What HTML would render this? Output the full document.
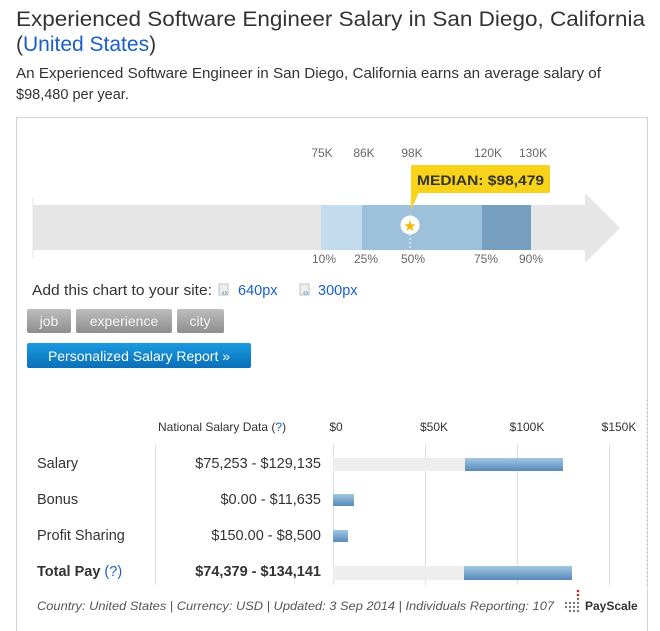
<!DOCTYPE html>
<html><head><meta charset="utf-8"><style>
html,body{margin:0;padding:0;background:#fff;}
svg{display:block;font-family:"Liberation Sans",sans-serif;}
</style></head><body>
<svg width="660" height="631" viewBox="0 0 660 631" xmlns="http://www.w3.org/2000/svg">
<text x="16" y="26" font-size="21" fill="#333" textLength="629" lengthAdjust="spacingAndGlyphs">Experienced Software Engineer Salary in San Diego, California</text>
<text x="16" y="51" font-size="21" fill="#333">(<tspan fill="#1a5fc9">United States</tspan>)</text>
<text x="16" y="78" font-size="14.5" fill="#333" textLength="585" lengthAdjust="spacingAndGlyphs">An Experienced Software Engineer in San Diego, California earns an average salary of</text>
<text x="16" y="99" font-size="14.5" fill="#333">$98,480 per year.</text>
<rect x="16.5" y="117.5" width="631" height="520" fill="none" stroke="#d4d4d4"/>
<rect x="33" y="205" width="553" height="45" fill="#e6e6e6"/>
<polygon points="585,193 620,228 585,263" fill="#e6e6e6"/>
<line x1="33" y1="197" x2="33" y2="258" stroke="#e6e6e6"/>
<rect x="321" y="205" width="41" height="45" fill="#c2dced"/>
<rect x="362" y="205" width="120" height="45" fill="#9dc1da"/>
<rect x="482" y="205" width="49" height="45" fill="#769fbf"/>
<line x1="410" y1="234" x2="410" y2="250" stroke="#fff" stroke-dasharray="2,2"/>
<circle cx="410" cy="225" r="9.5" fill="#fff"/>
<text x="410" y="231" font-size="15" fill="#f2b705" text-anchor="middle">★</text>
<polygon points="411,190 420,190 411,210" fill="#f9d21a"/>
<rect x="411" y="165" width="139" height="28" rx="2" fill="#f9d21a"/>
<text x="417" y="185" font-size="14" font-weight="bold" fill="#333" textLength="127" lengthAdjust="spacingAndGlyphs">MEDIAN: $98,479</text>
<g font-size="12" fill="#666" text-anchor="middle">
<text x="322" y="157">75K</text><text x="364" y="157">86K</text><text x="412" y="157">98K</text><text x="488" y="157">120K</text><text x="533" y="157">130K</text>
<text x="324" y="263">10%</text><text x="366" y="263">25%</text><text x="413" y="263">50%</text><text x="486" y="263">75%</text><text x="531" y="263">90%</text>
</g>
<text x="32" y="295" font-size="14.5" fill="#333" textLength="180" lengthAdjust="spacingAndGlyphs">Add this chart to your site:</text>
<rect x="219" y="284" width="9" height="11" fill="#eee" stroke="#aaa" stroke-width="0.7"/>
<text x="222" y="295" font-size="8" fill="#1a7fd0">‹›</text>
<text x="238" y="295" font-size="14.5" fill="#1a5fc9">640px</text>
<rect x="300" y="284" width="9" height="11" fill="#eee" stroke="#aaa" stroke-width="0.7"/>
<text x="303" y="295" font-size="8" fill="#1a7fd0">‹›</text>
<text x="318" y="295" font-size="14.5" fill="#1a5fc9">300px</text>
<defs>
<linearGradient id="tg" x1="0" y1="0" x2="0" y2="1"><stop offset="0" stop-color="#bdbdbd"/><stop offset="1" stop-color="#8e8e8e"/></linearGradient>
<linearGradient id="bg" x1="0" y1="0" x2="0" y2="1"><stop offset="0" stop-color="#1a9be0"/><stop offset="1" stop-color="#0a6fb8"/></linearGradient>
<linearGradient id="bar" x1="0" y1="0" x2="0" y2="1"><stop offset="0" stop-color="#9fc8e2"/><stop offset="1" stop-color="#5a89bb"/></linearGradient>
</defs>
<rect x="27" y="309" width="44" height="24" rx="2" fill="url(#tg)"/>
<rect x="76" y="309" width="96" height="24" rx="2" fill="url(#tg)"/>
<rect x="177" y="309" width="47" height="24" rx="2" fill="url(#tg)"/>
<g font-size="14" fill="#f4f4f4" text-anchor="middle"><text x="49" y="326">job</text><text x="124" y="326">experience</text><text x="200" y="326">city</text></g>
<rect x="27" y="343" width="224" height="25" rx="2" fill="url(#bg)"/>
<text x="139" y="361" font-size="14" fill="#fff" text-anchor="middle">Personalized Salary Report »</text>
<text x="158" y="431" font-size="12" fill="#333">National Salary Data (<tspan fill="#1a5fc9">?</tspan>)</text>
<g font-size="12" fill="#333" text-anchor="middle"><text x="336" y="431">$0</text><text x="434" y="431">$50K</text><text x="527" y="431">$100K</text><text x="619" y="431">$150K</text></g>
<g stroke="#ddd"><line x1="155.5" y1="445" x2="155.5" y2="585"/><line x1="333.5" y1="445" x2="333.5" y2="585"/><line x1="425.5" y1="445" x2="425.5" y2="585"/><line x1="517.5" y1="445" x2="517.5" y2="585"/><line x1="609.5" y1="445" x2="609.5" y2="585"/></g>
<line x1="646.5" y1="400" x2="646.5" y2="585" stroke="#ccc" stroke-dasharray="1,3"/>
<g font-size="14.5" fill="#333">
<text x="37" y="468">Salary</text><text x="37" y="504">Bonus</text><text x="37" y="540">Profit Sharing</text>
<text x="37" y="576" font-weight="bold">Total Pay <tspan font-weight="normal" fill="#1a5fc9">(?)</tspan></text>
</g>
<g font-size="14.5" fill="#333" text-anchor="end">
<text x="321" y="468">$75,253 - $129,135</text><text x="321" y="504">$0.00 - $11,635</text><text x="321" y="540">$150.00 - $8,500</text>
<text x="321" y="576" font-weight="bold">$74,379 - $134,141</text>
</g>
<rect x="333" y="458" width="132" height="13" fill="#eee"/><rect x="465" y="458" width="98" height="13" fill="url(#bar)"/>
<rect x="333" y="494" width="21" height="12" fill="url(#bar)"/>
<rect x="333" y="530" width="15" height="12" fill="url(#bar)"/>
<rect x="333" y="566" width="131" height="14" fill="#eee"/><rect x="464" y="566" width="108" height="14" fill="url(#bar)"/>
<text x="37" y="610" font-size="12" font-style="italic" fill="#555" textLength="517" lengthAdjust="spacingAndGlyphs">Country: United States | Currency: USD | Updated: 3 Sep 2014 | Individuals Reporting: 107</text>
<g fill="#777"><circle cx="566" cy="603" r="1.2"/><circle cx="570" cy="603" r="1.2"/><circle cx="574" cy="603" r="1.2"/><circle cx="578" cy="603" r="1.2"/>
<circle cx="566" cy="607" r="1.2"/><circle cx="570" cy="607" r="1.2"/><circle cx="574" cy="607" r="1.2"/><circle cx="578" cy="607" r="1.2"/>
<circle cx="570" cy="611" r="1.2"/><circle cx="574" cy="611" r="1.2"/><circle cx="578" cy="611" r="1.2"/><circle cx="578" cy="599" r="1.2"/></g>
<circle cx="578" cy="595" r="1.3" fill="#c0272d"/><circle cx="578" cy="591" r="1.3" fill="#c0272d"/>
<text x="585" y="610" font-size="12" font-weight="bold" fill="#333">PayScale</text>
</svg>
</body></html>
